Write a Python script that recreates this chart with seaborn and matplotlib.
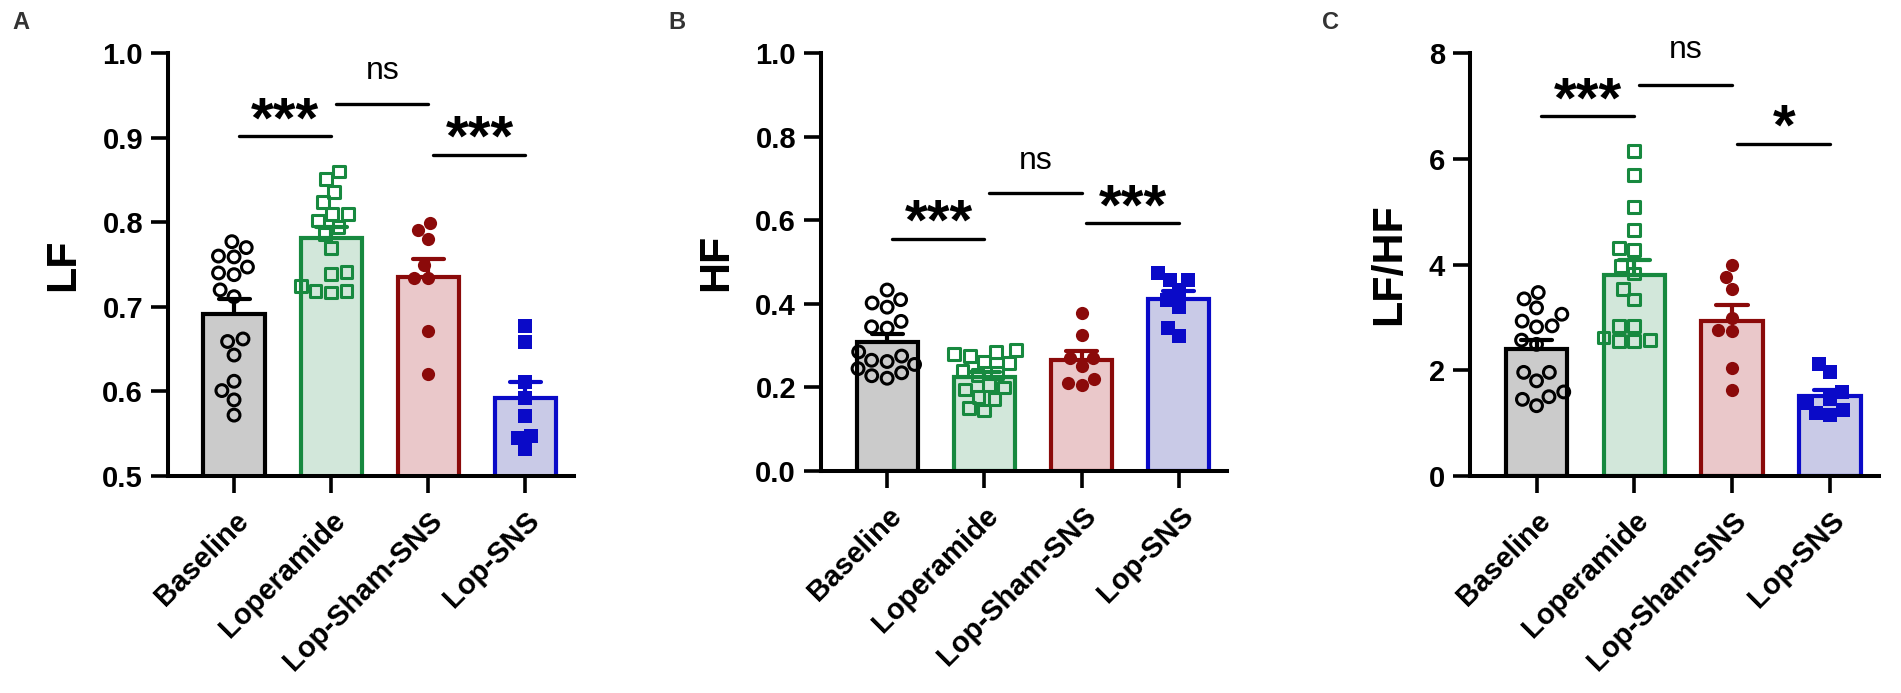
import pandas as pd
import numpy as np
import matplotlib
matplotlib.use("Agg")
import matplotlib.pyplot as plt
import seaborn as sns

groups = ["Baseline", "Loperamide", "Lop-Sham-SNS", "Lop-SNS"]

# LF values per group
lf_baseline = [0.760, 0.740, 0.720, 0.770, 0.747, 0.712, 0.777, 0.759,
               0.738, 0.662, 0.659, 0.643, 0.612, 0.601, 0.590, 0.572]
lf_loperamide = [0.860, 0.851, 0.836, 0.824, 0.810, 0.810, 0.802, 0.794,
                 0.786, 0.770, 0.739, 0.741, 0.725, 0.717, 0.719, 0.719]
lf_sham = [0.799, 0.780, 0.791, 0.749, 0.734, 0.734, 0.672, 0.620]
lf_sns = [0.677, 0.659, 0.611, 0.592, 0.571, 0.547, 0.532, 0.545]

# HF values per group
hf_baseline = [0.433, 0.410, 0.402, 0.392, 0.358, 0.342, 0.345, 0.285,
               0.275, 0.265, 0.262, 0.255, 0.245, 0.235, 0.228, 0.222]
hf_loperamide = [0.290, 0.285, 0.280, 0.275, 0.262, 0.258, 0.240, 0.235,
                 0.230, 0.205, 0.200, 0.195, 0.178, 0.172, 0.150, 0.145]
hf_sham = [0.379, 0.326, 0.270, 0.270, 0.251, 0.221, 0.207, 0.210]
hf_sns = [0.473, 0.457, 0.457, 0.433, 0.410, 0.392, 0.342, 0.322]

# LF/HF values per group
ratio_baseline = [3.47, 3.35, 3.18, 3.06, 2.93, 2.82, 2.84, 2.57,
                  2.49, 1.96, 1.96, 1.80, 1.59, 1.50, 1.45, 1.33]
ratio_loperamide = [6.14, 5.70, 5.09, 4.65, 4.28, 4.32, 3.97, 3.83,
                    3.54, 3.34, 2.84, 2.84, 2.55, 2.62, 2.58, 2.55]
ratio_sham = [4.00, 3.76, 3.54, 2.99, 2.77, 2.74, 2.05, 1.63]
ratio_sns = [2.11, 1.96, 1.58, 1.45, 1.38, 1.25, 1.15, 1.20]

# significance brackets: (from group, to group, line level, text level, label)
lf_sig = [(0, 1, 0.902, 0.933, "***"), (1, 2, 0.940, 0.976, "ns"), (2, 3, 0.880, 0.912, "***")]
hf_sig = [(0, 1, 0.556, 0.620, "***"), (1, 2, 0.665, 0.735, "ns"), (2, 3, 0.593, 0.657, "***")]
ratio_sig = [(0, 1, 6.80, 7.30, "***"), (1, 2, 7.40, 8.00, "ns"), (2, 3, 6.28, 6.79, "*")]

fills = ["#cbcbcb", "#d2e7da", "#eac8ca", "#c9cae7"]
edges = ["#000000", "#17893f", "#8b0a0a", "#0a0ac8"]
markers = ["o", "s", "o", "s"]
hollow = [True, True, False, False]

sns.set_style("ticks", {"axes.edgecolor": "black", "xtick.color": "black",
                        "ytick.color": "black", "text.color": "black",
                        "axes.labelcolor": "black"})
plt.rcParams["font.family"] = ["Liberation Sans", "DejaVu Sans"]
plt.rcParams["font.weight"] = "bold"


def make_df(values):
    rows = []
    for g, vals in zip(groups, values):
        for v in vals:
            rows.append({"group": g, "value": v})
    return pd.DataFrame(rows)


def draw_panel(ax, values, ylabel, ylim, yticks, fmt, sig):
    df = make_df(values)
    for i, g in enumerate(groups):
        sub = df[df["group"] == g]
        sns.barplot(data=sub, x="group", y="value", order=groups, ax=ax,
                    color=fills[i], saturation=1, edgecolor=edges[i], linewidth=3,
                    width=0.63, errorbar="se", capsize=0.32,
                    err_kws={"color": edges[i], "linewidth": 3, "zorder": 0.9})
    for i, g in enumerate(groups):
        sub = df[df["group"] == g]
        if hollow[i]:
            sns.swarmplot(data=sub, x="group", y="value", order=groups, ax=ax,
                          marker=markers[i], size=8.5, facecolor="none",
                          edgecolor=edges[i], linewidth=2.2, zorder=3)
        else:
            sns.swarmplot(data=sub, x="group", y="value", order=groups, ax=ax,
                          marker=markers[i], size=9.5, color=edges[i],
                          edgecolor=edges[i], linewidth=0, zorder=3)
    for i, j, yl, yt, lab in sig:
        ax.plot([i + 0.05, j], [yl, yl], color="black", lw=2.4, clip_on=False)
        if lab == "ns":
            ax.annotate(lab, ((i + j) / 2 + 0.03, yt), xytext=(0, 2),
                        textcoords="offset points", ha="center", va="center",
                        fontsize=23, fontweight="normal", annotation_clip=False)
        else:
            # asterisks sit high in the em box, pull them down to centre the ink
            ax.annotate(lab, ((i + j) / 2 + 0.03, yt), xytext=(0, -0.22 * 42),
                        textcoords="offset points", ha="center", va="center",
                        fontsize=42, fontweight="bold", annotation_clip=False)
    ax.set_ylim(*ylim)
    ax.set_xlim(-0.68, 3.5)
    ax.set_yticks(yticks)
    ax.set_yticklabels([fmt.format(t) for t in yticks])
    ax.set_xlabel("")
    ax.set_ylabel(ylabel, fontsize=31, fontweight="bold", labelpad=14)
    ax.set_xticks(range(len(groups)))
    ax.set_xticklabels(groups, rotation=45, ha="right", rotation_mode="anchor")
    ax.tick_params(axis="both", labelsize=21, width=2.6, length=12, pad=6)
    ax.tick_params(axis="x", pad=10)
    for lab in ax.get_xticklabels() + ax.get_yticklabels():
        lab.set_fontweight("bold")
    sns.despine(ax=ax)
    for s in ["left", "bottom"]:
        ax.spines[s].set_linewidth(2.9)


fig = plt.figure(figsize=(19.01, 6.93), dpi=100)
ax_a = fig.add_axes([0.0884, 0.3131, 0.2134, 0.6104])
ax_b = fig.add_axes([0.4319, 0.3203, 0.2137, 0.6032])
ax_c = fig.add_axes([0.7733, 0.3131, 0.2150, 0.6104])

draw_panel(ax_a, [lf_baseline, lf_loperamide, lf_sham, lf_sns], "LF",
           (0.5, 1.0), [0.5, 0.6, 0.7, 0.8, 0.9, 1.0], "{:.1f}", lf_sig)
draw_panel(ax_b, [hf_baseline, hf_loperamide, hf_sham, hf_sns], "HF",
           (0.0, 1.0), [0.0, 0.2, 0.4, 0.6, 0.8, 1.0], "{:.1f}", hf_sig)
draw_panel(ax_c, [ratio_baseline, ratio_loperamide, ratio_sham, ratio_sns], "LF/HF",
           (0, 8), [0, 2, 4, 6, 8], "{:.0f}", ratio_sig)

for x, lab in [(0.011, "A"), (0.356, "B"), (0.700, "C")]:
    fig.text(x, 0.968, lab, fontsize=17, fontweight="bold", color="#333333",
             ha="center", va="center")

fig.savefig("out.png", dpi=100)
